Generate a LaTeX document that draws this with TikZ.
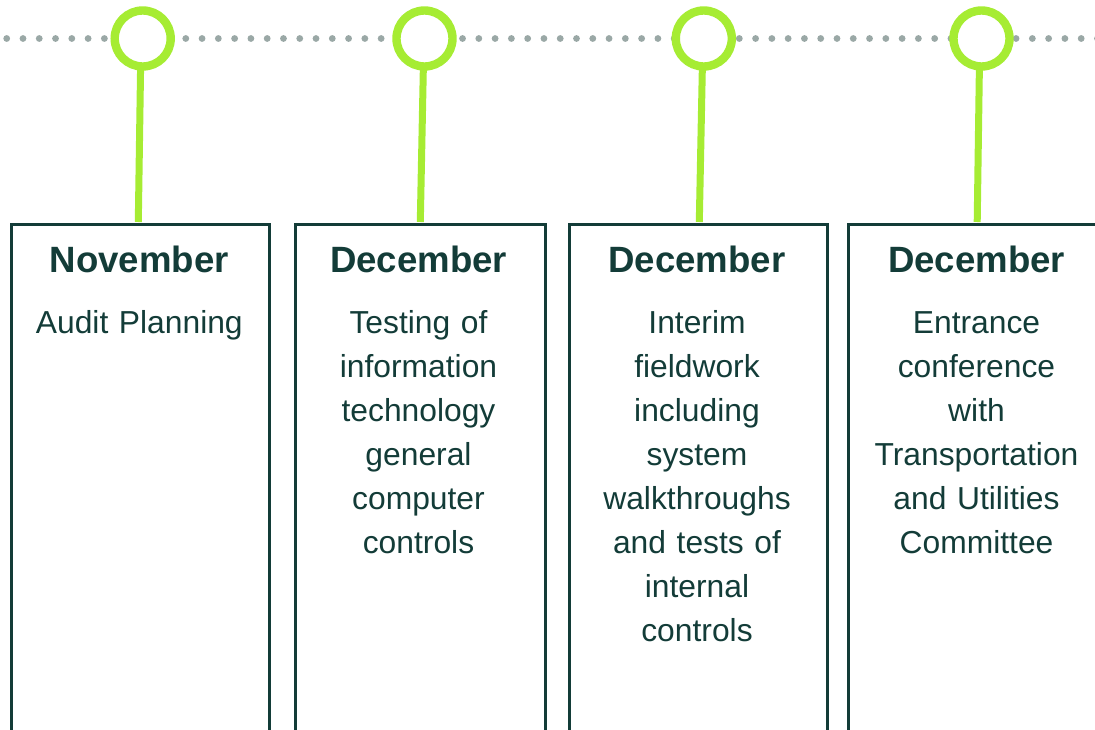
\documentclass[tikz,border=0pt]{standalone}
\usepackage{fontspec}
\setmainfont{Liberation Sans}
\definecolor{ink}{HTML}{133C38}
\definecolor{lime}{HTML}{A6EC33}
\definecolor{dotgray}{HTML}{9AA8A6}
\begin{document}
\begin{tikzpicture}[x=1pt,y=-1pt,
  dotmark/.style={fill=dotgray},
  ring/.style={circle, draw=lime, line width=8.4pt, fill=white, minimum size=56pt, inner sep=0pt},
  stem/.style={lime, line width=7pt},
  card/.style={draw=ink, line width=3pt, inner sep=0pt, anchor=north west, minimum height=560pt},
  month/.style={text=ink, font=\fontsize{36.6}{44}\selectfont\bfseries, anchor=base, inner sep=0pt},
  detail/.style={text=ink, font=\fontsize{31.8}{44}\selectfont, anchor=base, align=center, text width=250pt, inner sep=0pt}]
\useasboundingbox (0,0) rectangle (1095,730);
\clip (0,0) rectangle (1095,730);

% dotted timeline
\foreach \k in {0,...,67}
  \fill[dotmark] ({6.7+16.28*\k},38.5) circle (3.4pt);

% cards hanging below the timeline
\node[card, minimum width=258pt] (b1) at (10.3,223.5) {};
\node[card, minimum width=250.1pt] (b2) at (293.7,223.5) {};
\node[card, minimum width=258.8pt] (b3) at (567.5,223.5) {};
\node[card, minimum width=258pt] (b4) at (847.2,223.5) {};

% stems from the rings to the cards
\coordinate (s1t) at (140.7,60); \coordinate (s1b) at (138.3,222);
\coordinate (s2t) at (423.5,60); \coordinate (s2b) at (420.3,222);
\coordinate (s3t) at (702.5,60); \coordinate (s3b) at (699.3,222);
\coordinate (s4t) at (979.5,60); \coordinate (s4b) at (977.2,222);
\draw[stem] (s1t) -- (s1b);
\draw[stem] (s2t) -- (s2b);
\draw[stem] (s3t) -- (s3b);
\draw[stem] (s4t) -- (s4b);

% rings on the timeline
\node[ring] (c1) at (142.7,38.5) {};
\node[ring] (c2) at (424.5,38.5) {};
\node[ring] (c3) at (703.8,38.5) {};
\node[ring] (c4) at (981.5,38.5) {};

% months
\node[month] (m1) at (139.3,272.5) {November};
\node[month] (m2) at (418.5,272.5) {December};
\node[month] (m3) at (697,272.5) {December};
\node[month] (m4) at (976.5,272.5) {December};

% activities
\node[detail] (d1) at (139.3,333) {Audit Planning};
\node[detail] (d2) at (418.5,333) {Testing of\\information\\technology\\general\\computer\\controls};
\node[detail] (d3) at (697,333) {Interim\\fieldwork\\including\\system\\walkthroughs\\and tests of\\internal\\controls};
\node[detail] (d4) at (976.5,333) {Entrance\\conference\\with\\Transportation\\and Utilities\\Committee};
\end{tikzpicture}
\end{document}
